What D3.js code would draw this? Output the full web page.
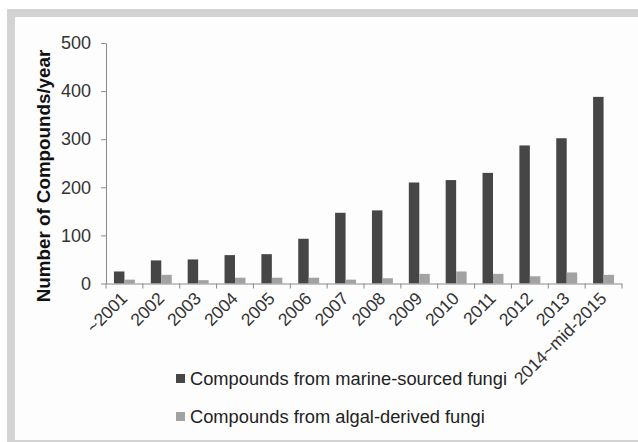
<!DOCTYPE html>
<html><head><meta charset="utf-8">
<script src="https://cdn.jsdelivr.net/npm/d3@7/dist/d3.min.js"></script>
<style>
html,body{margin:0;padding:0;background:#fff;}
text{font-family:"Liberation Sans",Arial,sans-serif;}
</style></head>
<body><svg id="c" width="638" height="442"></svg>
<script>
const categories = ["~2001","2002","2003","2004","2005","2006","2007","2008","2009","2010","2011","2012","2013","2014~mid-2015"];
const marineValues = [25,48,50,59,61,93,147,152,210,215,230,287,302,388];
const algalValues = [8,18,7,12,12,12,8,11,20,25,20,15,23,18];
const seriesNames = ["Compounds from marine-sourced fungi","Compounds from algal-derived fungi"];
const seriesColors = ["#464646","#a2a2a2"];
const yTicks = [0,100,200,300,400,500];

(function(){
const svg = d3.select("#c");
// frame
svg.append("rect").attr("x",7).attr("y",9).attr("width",631).attr("height",433).attr("fill","#d3d3d3");
svg.append("rect").attr("x",15).attr("y",17).attr("width",623).attr("height",423).attr("fill","#fdfdfd");

const pLeft = 106, pRight = 622, pTop = 43, pBottom = 283.5;
const x0 = d3.scaleBand().domain(categories).range([pLeft,pRight]).padding(0);
const x1 = d3.scaleBand().domain([0,1]).range([0,x0.bandwidth()]).paddingInner(0).paddingOuter(0.76);
const y = d3.scaleLinear().domain([0,500]).range([pBottom,pTop]);

const data = categories.map((c,i)=>({c, v:[marineValues[i],algalValues[i]]}));
const g = svg.append("g");
g.selectAll("g.grp").data(data).join("g").attr("class","grp")
  .attr("transform",d=>`translate(${x0(d.c)},0)`)
  .selectAll("rect").data(d=>d.v.map((v,k)=>({v,k}))).join("rect")
  .attr("x",d=>x1(d.k)).attr("width",x1.bandwidth())
  .attr("y",d=>y(d.v)).attr("height",d=>pBottom-y(d.v))
  .attr("fill",d=>seriesColors[d.k]);

// y axis
const yAxis = svg.append("g").attr("transform",`translate(${pLeft},0)`)
  .call(d3.axisLeft(y).tickValues(yTicks).tickSize(5).tickPadding(10).tickSizeOuter(0));
yAxis.select(".domain").attr("stroke","#8a8a8a");
yAxis.selectAll(".tick line").attr("stroke","#8a8a8a");
yAxis.selectAll("text").attr("font-size",18).attr("fill","#333").attr("font-family","Liberation Sans, Arial, sans-serif");

// x axis
const xAxis = svg.append("g").attr("transform",`translate(0,${pBottom})`)
  .call(d3.axisBottom(x0).tickSize(0).tickFormat(""));
xAxis.select(".domain").attr("stroke","#8a8a8a").attr("d",`M${pLeft},0.5H${pRight}`);
const bounds = categories.map(c=>x0(c)).concat([pRight]);
xAxis.selectAll("line.bt").data(bounds).join("line").attr("class","bt")
  .attr("x1",d=>d).attr("x2",d=>d).attr("y1",0).attr("y2",5).attr("stroke","#8a8a8a");
xAxis.selectAll("text.xl").data(categories).join("text").attr("class","xl")
  .attr("transform",d=>`translate(${x0(d)+x0.bandwidth()/2+4},${16}) rotate(-45)`)
  .attr("text-anchor","end").attr("font-size",17.5).attr("fill","#333").text(d=>d);

// y label
svg.append("text").attr("transform","translate(50,176) rotate(-90)")
  .attr("text-anchor","middle").attr("font-size",18.8).attr("font-weight","bold").attr("fill","#111")
  .text("Number of Compounds/year");

// legend
const leg = svg.append("g");
const rows = [385,423];
seriesNames.forEach((n,i)=>{
  leg.append("rect").attr("x",176).attr("y",rows[i]-11).attr("width",9).attr("height",9).attr("fill",seriesColors[i]);
  leg.append("text").attr("x",190).attr("y",rows[i]).attr("font-size",18.3).attr("fill","#222").text(n);
});
})();
</script></body></html>
